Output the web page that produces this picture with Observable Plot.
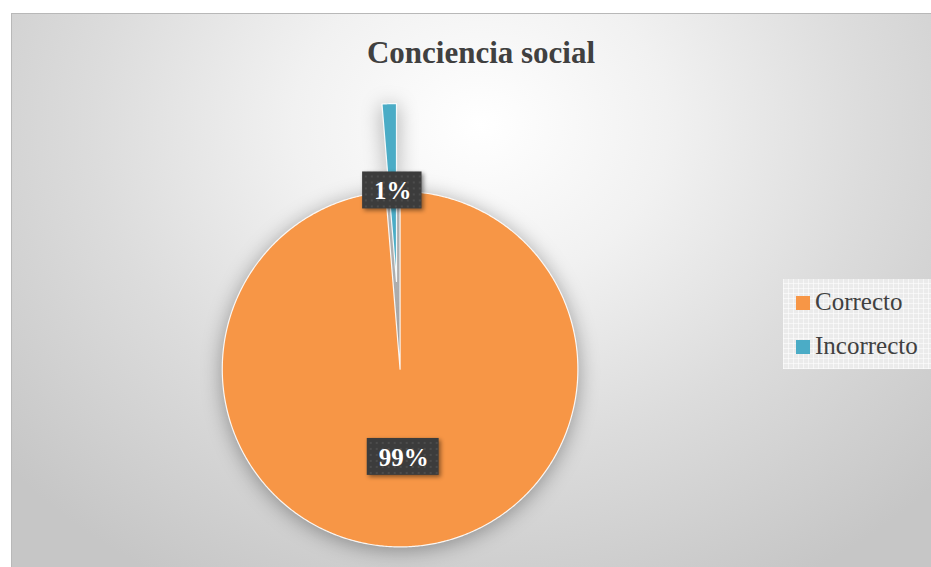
<!DOCTYPE html>
<html>
<head>
<meta charset="utf-8">
<script src="https://cdn.jsdelivr.net/npm/d3@7"></script>
<script src="https://cdn.jsdelivr.net/npm/@observablehq/plot@0.6"></script>
<style>
html, body { margin: 0; padding: 0; background: #ffffff; }
#chart {
  position: absolute; left: 11px; top: 13px; width: 920px; height: 554px; overflow: hidden;
  box-sizing: border-box; border-top: 1px solid #b8b8b8; border-left: 1px solid #b8b8b8;
  background: radial-gradient(ellipse 68% 95% at 51% 20%, #ffffff 0%, #f1f1f1 30%, #dcdcdc 62%, #c6c6c6 100%);
}
#title {
  position: absolute; left: 0; width: 938px; top: 24px; text-align: center;
  font: bold 31px/30px "Liberation Serif", "Times New Roman", serif; color: #404040;
}
#legend {
  position: absolute; left: 771px; top: 265px; width: 149px; height: 90px;
  background-color: #ebebeb;
  background-image:
    repeating-linear-gradient(0deg, rgba(255,255,255,0.55) 0 1px, transparent 1px 5px),
    repeating-linear-gradient(90deg, rgba(255,255,255,0.55) 0 1px, transparent 1px 5px);
}
.item {
  position: absolute; left: 13px; white-space: nowrap;
  font: 25px/22px "Liberation Serif", "Times New Roman", serif; color: #404040;
}
.sw { display: inline-block; width: 14px; height: 14px; margin-right: 5px; vertical-align: baseline; }
#plot { position: absolute; left: 0; top: 0; }
</style>
</head>
<body>
<div id="chart">
  <div id="plot"></div>
  <div id="title">Conciencia social</div>
  <div id="legend"></div>
</div>
<script>
// ---- data ----
const categories = ["Correcto", "Incorrecto"];
const values = [98.7, 1.3];
const labels = ["99%", "1%"];
const colors = ["#F79646", "#4BACC6"];

// ---- geometry (style) ----
const W = 920, H = 554;
const cx = 388, cy = 355, R = 178;          // pixel center / radius inside the chart box
const explode = [0, 0.494];                  // slice offset as fraction of radius
const labelRadius = [0.5, 1.0];              // label distance as fraction of radius

const arcs = d3.pie().sort(null).value(d => d)(values);
const pts = [];
arcs.forEach((a, i) => {
  const mid = (a.startAngle + a.endAngle) / 2;
  const ox = explode[i] * Math.sin(mid), oy = explode[i] * Math.cos(mid);
  const cat = categories[i];
  pts.push({cat, x: ox, y: oy});
  const n = Math.max(8, Math.ceil((a.endAngle - a.startAngle) / (Math.PI / 360)));
  for (let k = 0; k <= n; k++) {
    const t = a.startAngle + (a.endAngle - a.startAngle) * k / n;
    pts.push({cat, x: ox + Math.sin(t), y: oy + Math.cos(t)});
  }
  pts.push({cat, x: ox, y: oy});
});
const labelData = arcs.map((a, i) => {
  const mid = (a.startAngle + a.endAngle) / 2;
  return {cat: categories[i], text: labels[i], x: labelRadius[i] * Math.sin(mid), y: labelRadius[i] * Math.cos(mid)};
});

const plot = Plot.plot({
  width: W, height: H,
  margin: 0,
  x: {domain: [-cx / R, (W - cx) / R], axis: null},
  y: {domain: [(cy - H) / R, cy / R], axis: null},
  color: {domain: categories, range: colors},
  style: {background: "transparent", overflow: "visible"},
  marks: [
    Plot.line(pts, {x: "x", y: "y", z: "cat", fill: "cat", stroke: "#ffffff", strokeWidth: 1.2, strokeOpacity: 0.9, curve: "linear"}),
    Plot.text(labelData, {x: "x", y: "y", text: "text", fill: "#ffffff", fontSize: 25, fontWeight: "bold",
      fontFamily: "Liberation Serif, Times New Roman, serif"})
  ]
});
document.getElementById("plot").appendChild(plot);

// pie shadow
const slices = plot.querySelector('g[aria-label="line"]');
if (slices) slices.style.filter = "drop-shadow(0px 3px 10px rgba(0,0,0,0.34))";

// label boxes
const ns = "http://www.w3.org/2000/svg";
const defs = document.createElementNS(ns, "defs");
const pat = document.createElementNS(ns, "pattern");
pat.setAttribute("id", "dots"); pat.setAttribute("width", 6); pat.setAttribute("height", 6);
pat.setAttribute("patternUnits", "userSpaceOnUse");
const pr = document.createElementNS(ns, "rect");
pr.setAttribute("width", 6); pr.setAttribute("height", 6); pr.setAttribute("fill", "#3c3c3c");
const pc = document.createElementNS(ns, "circle");
pc.setAttribute("cx", 3); pc.setAttribute("cy", 3); pc.setAttribute("r", 0.9); pc.setAttribute("fill", "#535353");
pat.appendChild(pr); pat.appendChild(pc); defs.appendChild(pat);
plot.insertBefore(defs, plot.firstChild);
const lg = plot.querySelector('g[aria-label="text"]');
if (lg) {
  lg.querySelectorAll("text").forEach(t => {
    const b = t.getBBox();
    const w = b.width + 22, h = 37;
    const r = document.createElementNS(ns, "rect");
    r.setAttribute("x", b.x + b.width / 2 - w / 2 - 1);
    r.setAttribute("y", b.y + b.height / 2 - h / 2 - 1);
    r.setAttribute("width", w);
    r.setAttribute("height", h);
    r.setAttribute("fill", "url(#dots)");
    r.setAttribute("stroke", "none");
    const tr = t.getAttribute("transform");
    if (tr) r.setAttribute("transform", tr);
    r.style.filter = "drop-shadow(2px 2px 2px rgba(0,0,0,0.45))";
    t.parentNode.insertBefore(r, t);
  });
}

// legend
const legend = document.getElementById("legend");
categories.forEach((c, i) => {
  const d = document.createElement("div");
  d.className = "item";
  d.style.top = (12 + 44 * i) + "px";
  d.innerHTML = `<span class="sw" style="background:${colors[i]}"></span>${c}`;
  legend.appendChild(d);
});
</script>
</body>
</html>
